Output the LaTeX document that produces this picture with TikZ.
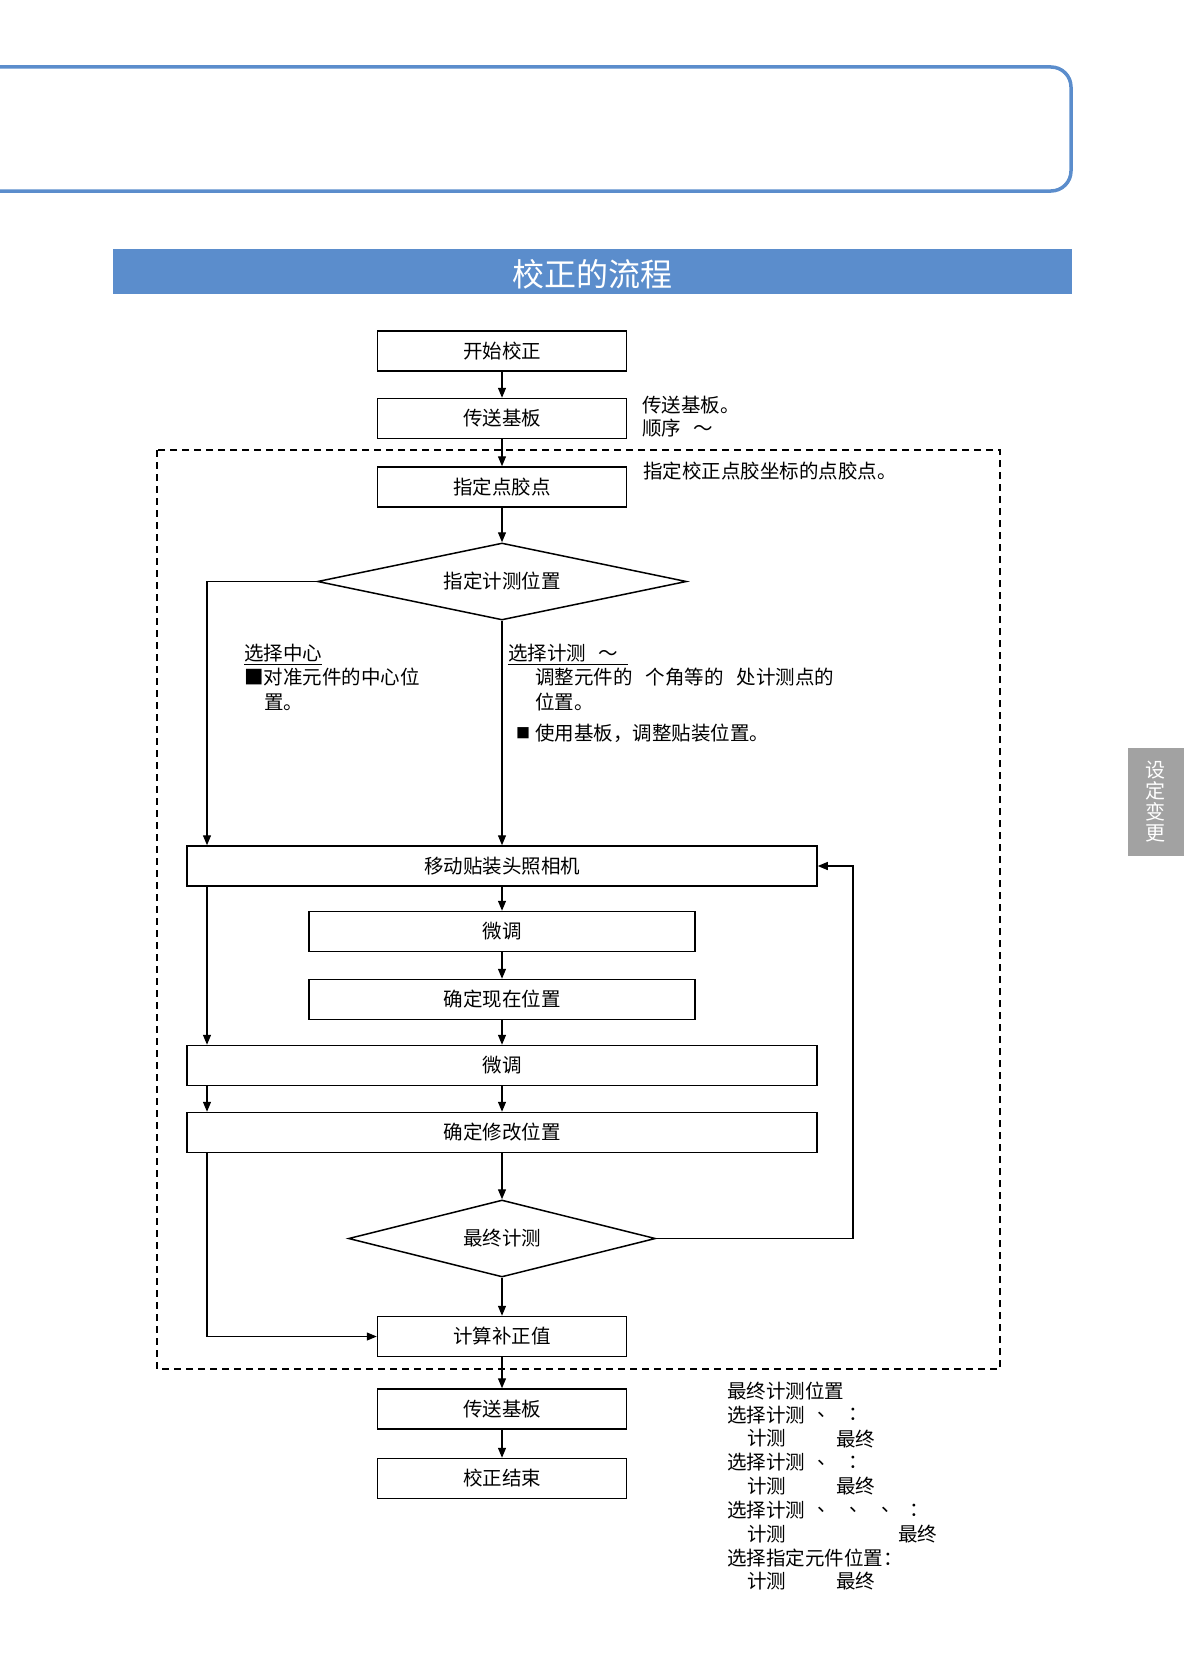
\documentclass[tikz,border=0pt]{standalone}
\usepackage{fontspec}
\setmainfont{Noto Sans CJK SC}
\usetikzlibrary{arrows.meta,shapes.geometric}
\definecolor{hdrblue}{RGB}{91,141,204}
\definecolor{tabgray}{RGB}{162,162,162}
\newcommand\myfs{\fontsize{19.5}{23}\selectfont}
\begin{document}
\begin{tikzpicture}[x=1pt,y=-1pt,
  flowbox/.style={draw, line width=1.5pt, minimum height=40pt, inner sep=0pt, font=\myfs, text=black},
  decision/.style={draw, diamond, shape aspect=4.8, line width=1.5pt, inner sep=0pt, font=\myfs, text=black},
  arr/.style={line width=1.3pt, -{Triangle[length=10pt,width=8pt]}},
  conn/.style={line width=1.3pt},
  note/.style={anchor=west, inner sep=0pt, font=\myfs, text=black}]
\useasboundingbox (0,0) rectangle (1184,1675);

% header frame
\draw[hdrblue, line width=3.5pt, rounded corners=20pt] (-20,67) -- (1071,67) -- (1071,191) -- (-20,191);
\fill[hdrblue] (113,249) rectangle (1072,294);
\node[font=\fontsize{32}{32}\selectfont, text=white] (title) at (592.5,274) {校正的流程};

% side tab
\fill[tabgray] (1128,748) rectangle (1184,856);
\node[text=white, font=\fontsize{20}{21}\selectfont, align=center, inner sep=0pt] (tab) at (1155,802) {设\\定\\变\\更};

% dashed frame
\draw[line width=1.6pt, dash pattern=on 7pt off 5pt] (157,450) rectangle (1000,1369);

% flow nodes
\node[flowbox, minimum width=249pt] (b1) at (502,351) {开始校正};
\node[flowbox, minimum width=249pt] (b2) at (502,418.5) {传送基板};
\node[flowbox, minimum width=249pt] (b3) at (502,487) {指定点胶点};
\node[decision, minimum width=369pt, minimum height=77pt] (d1) at (502,581.5) {指定计测位置};
\node[flowbox, minimum width=630pt] (m) at (502,866) {移动贴装头照相机};
\node[flowbox, minimum width=386pt] (n1) at (502,931.5) {微调};
\node[flowbox, minimum width=386pt] (n2) at (502,999.5) {确定现在位置};
\node[flowbox, minimum width=630pt] (w1) at (502,1065.5) {微调};
\node[flowbox, minimum width=630pt] (w2) at (502,1132.5) {确定修改位置};
\node[decision, minimum width=307pt, minimum height=77pt] (d2) at (502,1238.5) {最终计测};
\node[flowbox, minimum width=249pt] (c) at (502,1336.5) {计算补正值};
\node[flowbox, minimum width=249pt] (t2) at (502,1409) {传送基板};
\node[flowbox, minimum width=249pt] (e) at (502,1478.5) {校正结束};

\coordinate (Lx) at (207,0);
\coordinate (Rx) at (853,0);

% connectors
\draw[arr] (b1.south) -- (b2.north);
\draw[arr] (b2.south) -- (b3.north);
\draw[arr] (b3.south) -- (d1.north);
\draw[arr] (d1.west) -| (m.north -| Lx);
\draw[arr] (d1.south) -- (m.north);
\draw[arr] (m.south) -- (n1.north);
\draw[arr] (n1.south) -- (n2.north);
\draw[arr] (n2.south) -- (w1.north);
\draw[arr] (m.south -| Lx) -- (w1.north -| Lx);
\draw[arr] (w1.south) -- (w2.north);
\draw[arr] (w1.south -| Lx) -- (w2.north -| Lx);
\draw[arr] (w2.south) -- (d2.north);
\draw[arr] (w2.south -| Lx) |- (c.west);
\draw[arr] (d2.south) -- (c.north);
\draw[arr] (d2.east) -- (d2.east -| Rx) -- (m.east -| Rx) -- (m.east);
\draw[arr] (c.south) -- (t2.north);
\draw[arr] (t2.south) -- (e.north);

% side notes
\node[note] (a1) at (642,405) {传送基板。};
\node[note] (a2) at (642,428) {顺序\hspace{12pt}～};
\node[note] (a3) at (643,471) {指定校正点胶坐标的点胶点。};

\node[note] (l1) at (244,653) {选择中心};
\draw[line width=1pt] ([yshift=-2pt]l1.south west) -- ([yshift=-2pt]l1.south east);
\node[note] (l2) at (244,677) {■对准元件的中心位};
\node[note] (l3) at (264,702) {置。};

\node[note] (r1) at (508,653) {选择计测\hspace{12pt}～};
\draw[line width=1pt] ([yshift=-2pt]r1.south west) -- ([yshift=-2pt,xshift=10pt]r1.south east);
\node[note] (r2) at (535,677) {调整元件的\hspace{13pt}个角等的\hspace{13pt}处计测点的};
\node[note] (r3) at (535,702) {位置。};
\node[note, font=\fontsize{14}{14}\selectfont] (r4a) at (516,733) {■};
\node[note] (r4) at (535,733) {使用基板，调整贴装位置。};

% bottom-right notes
\node[note] (q0) at (727,1391) {最终计测位置};
\node[note] (q1) at (727,1414.8) {选择计测};
\node[note] (q1a) at (817,1414.8) {、};
\node[note] (q1b) at (848,1414.8) {：};
\node[note] (q2a) at (747,1438.6) {计测};
\node[note] (q2b) at (836,1438.6) {最终};
\node[note] (q3) at (727,1462.4) {选择计测};
\node[note] (q3a) at (817,1462.4) {、};
\node[note] (q3b) at (848,1462.4) {：};
\node[note] (q4a) at (747,1486.2) {计测};
\node[note] (q4b) at (836,1486.2) {最终};
\node[note] (q5) at (727,1510) {选择计测};
\node[note] (q5a) at (817,1510) {、};
\node[note] (q5b) at (849,1510) {、};
\node[note] (q5c) at (881,1510) {、};
\node[note] (q5d) at (909,1510) {：};
\node[note] (q6a) at (747,1533.8) {计测};
\node[note] (q6b) at (898,1533.8) {最终};
\node[note] (q7) at (727,1557.6) {选择指定元件位置：};
\node[note] (q8a) at (747,1581.4) {计测};
\node[note] (q8b) at (836,1581.4) {最终};
\end{tikzpicture}
\end{document}
